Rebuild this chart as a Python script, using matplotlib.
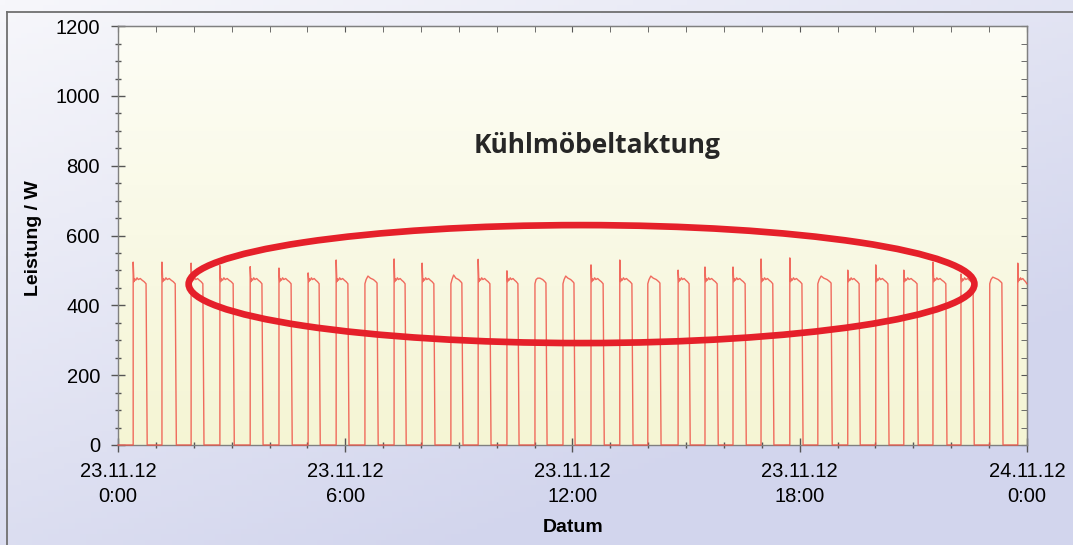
import matplotlib
matplotlib.use('Agg')
import matplotlib.pyplot as plt
import numpy as np
from matplotlib.patches import Ellipse
from matplotlib.lines import Line2D
from matplotlib.ticker import FixedLocator, MultipleLocator

plt.rcParams['font.family'] = ['Liberation Sans', 'DejaVu Sans']

# Einschalt-/Ausschaltzeitpunkte der Kuehlmoebel (Stunden ab 23.11.12 0:00)
t_on = [0.40, 1.16, 1.93, 2.69, 3.49, 4.25, 5.02, 5.76, 6.52, 7.29, 8.03, 8.79,
        9.51, 10.27, 11.01, 11.75, 12.49, 13.25, 13.99, 14.79, 15.50, 16.24,
        16.98, 17.74, 18.48, 19.27, 20.01, 20.75, 21.52, 22.26, 23.02, 23.76]
t_off = [0.74, 1.51, 2.24, 3.04, 3.80, 4.57, 5.31, 6.07, 6.84, 7.58, 8.34, 9.08,
         9.82, 10.56, 11.30, 12.04, 12.81, 13.57, 14.31, 15.08, 15.82, 16.56,
         17.29, 18.06, 18.83, 19.57, 20.33, 21.10, 21.86, 22.58, 23.34, 24.00]
# Anlaufspitze je Zyklus (W)
p_peak = [524, 524, 521, 514, 511, 507, 493, 530, 484, 533, 521, 487,
          532, 499, 478, 484, 516, 530, 484, 501, 510, 510, 533, 536, 484,
          501, 516, 501, 524, 490, 481, 521]

# Verlauf der Leistung waehrend eines Laufs (Anteil der Laufzeit, W)
spike_frac = [0.06, 0.12, 0.20, 0.30, 0.40, 0.55, 0.70, 0.85, 1.00]
spike_vals = [468, 476, 472, 479, 474, 477, 472, 468, 462]
round_frac = [0.00, 0.10, 0.25, 0.45, 0.70, 0.90, 1.00]
round_vals = [462, 474, None, 478, 474, 468, 464]

x_ticks = [0, 6, 12, 18, 24]
x_labels = ['23.11.12\n0:00', '23.11.12\n6:00', '23.11.12\n12:00',
            '23.11.12\n18:00', '24.11.12\n0:00']
y_ticks = [0, 200, 400, 600, 800, 1000, 1200]

# Kurve zusammensetzen
xs, ys = [0.0], [0.0]
n = len(t_on)
for i in range(n):
    r, f, p = t_on[i], t_off[i], p_peak[i]
    w = f - r
    xs.append(r); ys.append(0)
    if p >= 490:
        xs.append(r); ys.append(p)
        for fr, v in zip(spike_frac, spike_vals):
            xs.append(r + fr * w); ys.append(v)
    else:
        for fr, v in zip(round_frac, round_vals):
            xs.append(r + fr * w); ys.append(p if v is None else v)
    if i < n - 1:
        xs.append(f + 0.03); ys.append(0)

fig = plt.figure(figsize=(10.73, 5.45), dpi=100)

# Hintergrund der Grafik (Verlauf weiss -> lavendel)
bg = fig.add_axes([0, 0, 1, 1], zorder=-1)
gx, gy = np.meshgrid(np.linspace(0, 1, 200), np.linspace(0, 1, 100))
t = np.clip(0.55 * gx + 0.75 * gy, 0, 1)[..., None]
c0 = np.array([247, 247, 251]) / 255
c1 = np.array([210, 213, 237]) / 255
bg.imshow(c0 + (c1 - c0) * t, extent=[0, 1, 0, 1], aspect='auto')
bg.axis('off')

ax = fig.add_axes([0.110, 0.1835, 0.847, 0.7685])
# Hintergrund im Diagramm (hellgelber Verlauf)
vy = np.linspace(0, 1, 100)[:, None, None]
a0 = np.array([253, 253, 246]) / 255
a1 = np.array([245, 245, 212]) / 255
ax.imshow(a0 + (a1 - a0) * vy, extent=[0, 24, 0, 1200], aspect='auto', zorder=0)

ax.plot(xs, ys, color='#EF5247', lw=1.0, alpha=0.85, clip_on=False, zorder=3)

ax.add_patch(Ellipse((12.24, 461), 20.75, 338, fill=False, ec='#E5202A',
                     lw=4.8, zorder=4))
ax.text(12.65, 859, 'Kühlmöbeltaktung', fontsize=19, fontweight='bold',
        family=['Open Sans', 'DejaVu Sans'], color='#262626',
        ha='center', va='center', zorder=5)

ax.set_xlim(0, 24)
ax.set_ylim(0, 1200)
ax.xaxis.set_major_locator(FixedLocator(x_ticks))
ax.set_xticklabels(x_labels)
ax.xaxis.set_minor_locator(MultipleLocator(1))
ax.yaxis.set_major_locator(FixedLocator(y_ticks))
ax.yaxis.set_minor_locator(MultipleLocator(50))
ax.tick_params(which='major', direction='inout', length=10, width=1,
               color='#555555', labelsize=14.5, pad=7)
ax.tick_params(which='minor', direction='inout', length=5, width=1,
               color='#555555')
ax.tick_params(axis='y', which='major', pad=8)
for lab in ax.get_xticklabels():
    lab.set_linespacing(1.45)
for s in ax.spines.values():
    s.set_color('#808080')
    s.set_linewidth(1.0)

# Ticks innen an oberer und rechter Achse
top = ax.secondary_xaxis('top')
top.xaxis.set_major_locator(FixedLocator(x_ticks))
top.xaxis.set_minor_locator(MultipleLocator(1))
top.tick_params(which='both', direction='in', length=4, color='#555555',
                labeltop=False)
right = ax.secondary_yaxis('right')
right.yaxis.set_major_locator(FixedLocator(y_ticks))
right.yaxis.set_minor_locator(MultipleLocator(50))
right.tick_params(which='both', direction='in', length=4, color='#555555',
                  labelright=False)
for sa in (top, right):
    for s in sa.spines.values():
        s.set_color('#808080')

fig.text(0.534, 0.033, 'Datum', fontsize=14, fontweight='bold',
         ha='center', va='center')
fig.text(0.031, 0.563, 'Leistung / W', fontsize=14, fontweight='bold',
         ha='center', va='center', rotation=90)

# Rahmen links/oben
fig.add_artist(Line2D([7 / 1073, 7 / 1073], [0, 1 - 12 / 545],
                      transform=fig.transFigure, color='#707070', lw=1.3))
fig.add_artist(Line2D([7 / 1073, 1], [1 - 12 / 545, 1 - 12 / 545],
                      transform=fig.transFigure, color='#707070', lw=1.3))

fig.savefig('out.png', dpi=100)
